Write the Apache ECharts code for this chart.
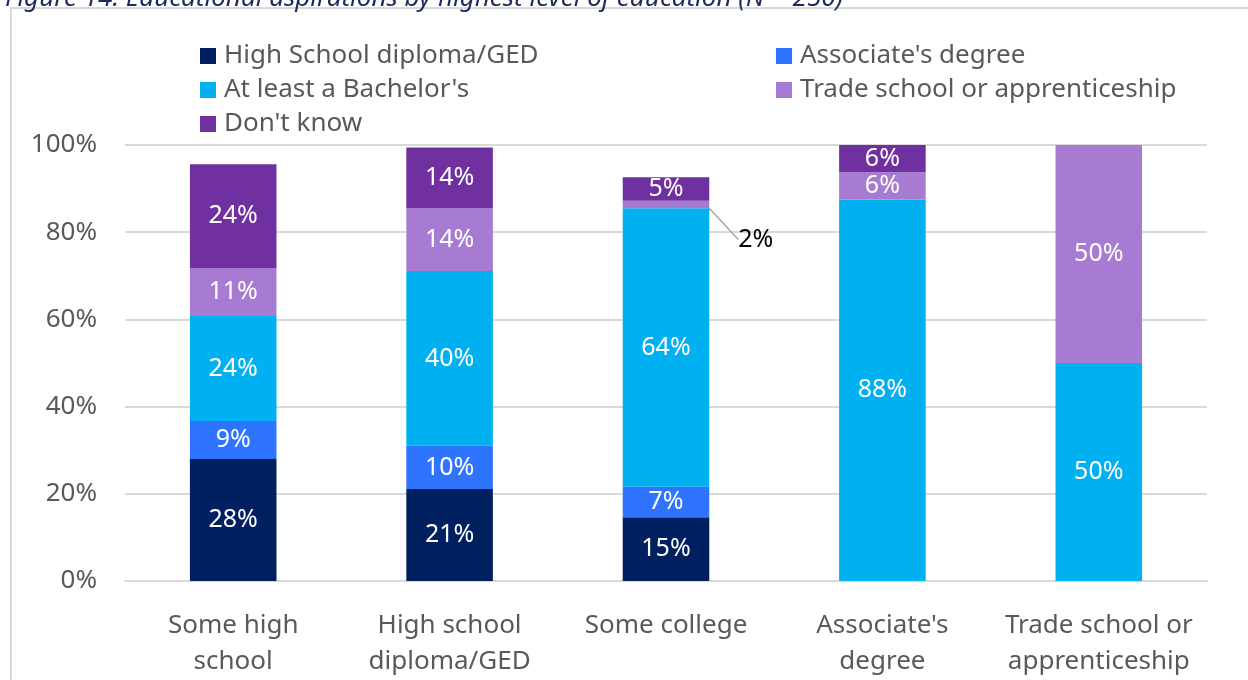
<!DOCTYPE html>
<html lang="en" style="height: 100%">
<head>
  <meta charset="utf-8">
</head>
<body style="height: 100%; margin: 0; background: #fff">
  <div id="container" style="width: 1248px; height: 680px"></div>

  <script type="text/javascript" src="https://cdn.jsdelivr.net/npm/echarts@6/dist/echarts.min.js"></script>
  <script type="text/javascript">
    // categories on the x axis
    var categories = ['Some high\nschool', 'High school\ndiploma/GED', 'Some college', "Associate's\ndegree", 'Trade school or\napprenticeship'];
    var seriesNames = ['High School diploma/GED', "Associate's degree", "At least a Bachelor's", 'Trade school or apprenticeship', "Don't know"];
    // values in percent
    var highSchool = [28.0, 21.1, 14.6, 0, 0];
    var associate  = [8.7, 9.9, 7.0, 0, 0];
    var bachelor   = [24.1, 40.1, 63.9, 87.5, 50];
    var trade      = [11.0, 14.4, 1.7, 6.25, 50];
    var dontKnow   = [23.8, 13.9, 5.4, 6.25, 0];
    var yTicks = [0, 20, 40, 60, 80, 100];

    var colors = ['#002060', '#2F74FF', '#00B0F0', '#A77BD1', '#7030A0'];
    var FONT = 'Noto Sans';

    var dom = document.getElementById('container');
    var myChart = echarts.init(dom, null, { renderer: 'canvas' });

    function makeSeries(idx, values) {
      return {
        name: seriesNames[idx],
        type: 'bar',
        stack: 'total',
        barWidth: '40%',
        itemStyle: { color: colors[idx] },
        data: values.map(function (v, i) {
          var item = { value: v };
          // small slice gets an outside label with leader line
          if (idx === 3 && i === 2) {
            item.label = { position: 'right', color: '#000000' };
          }
          return item;
        }),
        label: {
          show: true,
          position: 'inside',
          color: '#ffffff',
          fontFamily: FONT,
          fontSize: 25,
          formatter: function (p) {
            return p.value > 0 ? Math.round(p.value) + '%' : '';
          }
        },
        labelLine: {
          show: idx === 3,
          lineStyle: { color: '#a6a6a6', width: 1.5 }
        },
        labelLayout: function (p) {
          if (p.seriesIndex === 3 && p.dataIndex === 2) {
            return { dx: 24, dy: 35 };
          }
        }
      };
    }

    var legendText = { color: '#595959', fontFamily: FONT, fontSize: 26, padding: [0, 0, 0, 3] };

    var option = {
      animation: false,
      textStyle: { fontFamily: FONT },
      title: {
        text: 'Figure 14: Educational aspirations by highest level of education (N = 250)',
        left: 0,
        top: -19,
        textStyle: { color: '#1F2A5C', fontStyle: 'italic', fontWeight: 'normal', fontSize: 26, fontFamily: FONT }
      },
      graphic: [{
        type: 'rect',
        shape: { x: 11, y: 8, width: 1300, height: 700 },
        style: { fill: 'none', stroke: '#d9d9d9', lineWidth: 2 },
        silent: true
      }],
      legend: [
        {
          data: [seriesNames[0], seriesNames[2], seriesNames[4]],
          orient: 'vertical',
          left: 195,
          top: 38,
          itemWidth: 16,
          itemHeight: 16,
          itemGap: 8,
          icon: 'rect',
          textStyle: legendText
        },
        {
          data: [seriesNames[1], seriesNames[3]],
          orient: 'vertical',
          left: 771,
          top: 38,
          itemWidth: 16,
          itemHeight: 16,
          itemGap: 8,
          icon: 'rect',
          textStyle: legendText
        }
      ],
      grid: { left: 125, right: 41, top: 145, bottom: 99, containLabel: false },
      xAxis: {
        type: 'category',
        data: categories,
        axisLine: { lineStyle: { color: '#d9d9d9', width: 2 } },
        axisTick: { show: false },
        axisLabel: {
          color: '#595959',
          fontFamily: FONT,
          fontSize: 26,
          lineHeight: 36,
          margin: 27,
          interval: 0
        }
      },
      yAxis: {
        type: 'value',
        min: yTicks[0],
        max: yTicks[yTicks.length - 1],
        interval: yTicks[1] - yTicks[0],
        axisLine: { show: false },
        axisTick: { show: false },
        splitLine: { lineStyle: { color: '#d9d9d9', width: 2 } },
        axisLabel: {
          color: '#595959',
          fontFamily: FONT,
          fontSize: 26,
          margin: 28,
          formatter: '{value}%'
        }
      },
      series: [
        makeSeries(0, highSchool),
        makeSeries(1, associate),
        makeSeries(2, bachelor),
        makeSeries(3, trade),
        makeSeries(4, dontKnow)
      ]
    };

    myChart.setOption(option);
    window.addEventListener('resize', myChart.resize);
  </script>
</body>
</html>
